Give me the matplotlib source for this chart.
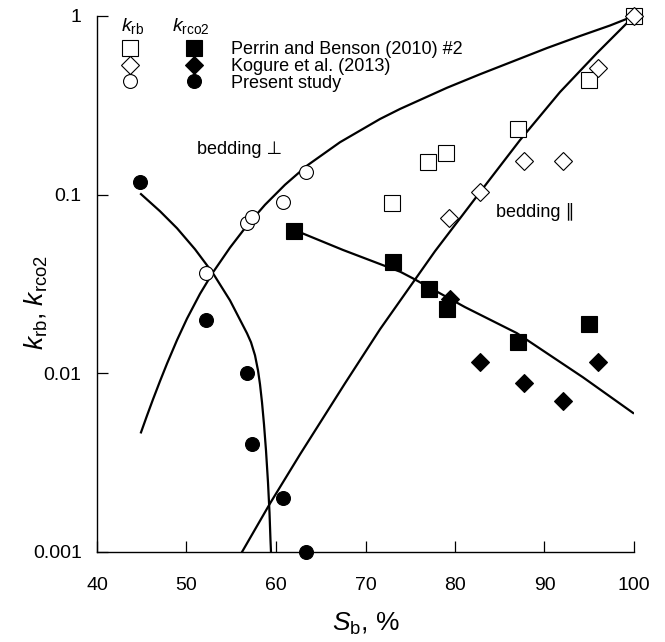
import matplotlib
matplotlib.use("Agg")
import matplotlib.pyplot as plt
from matplotlib.legend_handler import HandlerTuple

plt.rcParams['font.family'] = ['Liberation Sans', 'DejaVu Sans']
plt.rcParams['mathtext.fontset'] = 'custom'
plt.rcParams['mathtext.rm'] = 'Liberation Sans'
plt.rcParams['mathtext.it'] = 'Liberation Sans:italic'

# ---- data ----
perrin_krb_x = [73, 77, 79, 87, 95, 100]
perrin_krb_y = [0.090, 0.152, 0.171, 0.232, 0.44, 1.0]
kogure_krb_x = [79.3, 82.8, 87.7, 92.1, 96.0, 100]
kogure_krb_y = [0.074, 0.104, 0.154, 0.154, 0.51, 1.0]
present_krb_x = [52.2, 56.8, 57.3, 60.8, 63.4]
present_krb_y = [0.0365, 0.0695, 0.075, 0.091, 0.134]

perrin_kco2_x = [62.0, 73.1, 77.1, 79.1, 87.0, 95.0]
perrin_kco2_y = [0.0626, 0.042, 0.0297, 0.023, 0.015, 0.019]
kogure_kco2_x = [79.4, 82.8, 87.7, 92.1, 96.0]
kogure_kco2_y = [0.026, 0.0116, 0.0088, 0.0070, 0.0116]
present_kco2_x = [44.8, 52.2, 56.8, 57.3, 60.8, 63.4]
present_kco2_y = [0.118, 0.020, 0.0100, 0.0040, 0.0020, 0.0010]

# fitted curves
perp_krb_x = [44.916, 45.587, 46.257, 47.039, 47.821, 48.939, 50.056, 51.508, 52.961, 54.860,
              56.760, 58.771, 61.006, 63.464, 67.151, 71.620, 73.855, 79.106, 82.793, 86.480,
              90.279, 93.966, 97.318, 100]
perp_krb_y = [0.004671, 0.005801, 0.007151, 0.009043, 0.011331, 0.015346, 0.020248, 0.027853,
              0.036752, 0.050535, 0.067222, 0.087764, 0.11362, 0.14540, 0.19656, 0.26515,
              0.30177, 0.39658, 0.47196, 0.55743, 0.66177, 0.77268, 0.88465, 1.0]
par_krb_x = [56.201, 59.330, 62.682, 67.709, 71.620, 77.765, 82.793, 87.263, 91.732, 95.866, 100]
par_krb_y = [0.0010, 0.001869, 0.003517, 0.008790, 0.017643, 0.048253, 0.10328, 0.20200,
             0.37526, 0.62052, 1.0]
perp_kco2_x = [44.916, 47.039, 48.939, 50.950, 52.961, 54.860, 56.760, 57.207, 57.654, 57.989,
               58.212, 58.436, 58.659, 58.883, 59.106, 59.274, 59.385, 59.441]
perp_kco2_y = [0.1007, 0.0808, 0.0649, 0.0495, 0.0363, 0.0256, 0.01675, 0.01492, 0.01261,
               0.01039, 0.00868, 0.00688, 0.00518, 0.00370, 0.00245, 0.001664, 0.001160, 0.0010]
par_kco2_x = [62.7, 67.5, 73.9, 75.3, 81.1, 86.9, 94.3, 99.9]
par_kco2_y = [0.0615, 0.049, 0.037, 0.034, 0.0235, 0.0168, 0.0095, 0.0060]

legend_labels = ["Perrin and Benson (2010) #2", "Kogure et al. (2013)", "Present study"]
x_ticks = [40, 50, 60, 70, 80, 90, 100]
y_ticks = [0.001, 0.01, 0.1, 1]
y_ticklabels = ["0.001", "0.01", "0.1", "1"]

fig = plt.figure(figsize=(6.65, 6.42), dpi=100)
ax = fig.add_axes([97/665, 90/642, 537/665, 536/642])

lw = 1.6
for cx, cy in [(perp_krb_x, perp_krb_y), (par_krb_x, par_krb_y),
               (perp_kco2_x, perp_kco2_y), (par_kco2_x, par_kco2_y)]:
    ax.plot(cx, cy, color='black', lw=lw, zorder=2, solid_joinstyle='round')

ms_sq = 11.5
ms_d = 9
ms_c = 10
mew = 0.8
open_kw = dict(ls='none', mfc='white', mec='black', mew=mew, clip_on=False, zorder=3)
fill_kw = dict(ls='none', mfc='black', mec='black', mew=mew, clip_on=False, zorder=3)

h1, = ax.plot(perrin_krb_x, perrin_krb_y, marker='s', ms=ms_sq, **open_kw)
h2, = ax.plot(kogure_krb_x, kogure_krb_y, marker='D', ms=ms_d, **open_kw)
h3, = ax.plot(present_krb_x, present_krb_y, marker='o', ms=ms_c, **open_kw)
g1, = ax.plot(perrin_kco2_x, perrin_kco2_y, marker='s', ms=ms_sq, **fill_kw)
g2, = ax.plot(kogure_kco2_x, kogure_kco2_y, marker='D', ms=ms_d, **fill_kw)
g3, = ax.plot(present_kco2_x, present_kco2_y, marker='o', ms=ms_c, **fill_kw)

ax.set_yscale('log')
ax.set_xlim(40, 100)
ax.set_ylim(0.001, 1)
ax.set_xticks(x_ticks)
ax.set_xticklabels([str(t) for t in x_ticks])
ax.set_yticks(y_ticks)
ax.set_yticklabels(y_ticklabels)
ax.yaxis.set_minor_locator(matplotlib.ticker.NullLocator())
ax.tick_params(direction='in', length=8, width=0.9, labelsize=14)
ax.tick_params(axis='x', pad=18)
ax.tick_params(axis='y', pad=11)
for s in ['top', 'right']:
    ax.spines[s].set_visible(False)
for s in ['left', 'bottom']:
    ax.spines[s].set_linewidth(1.0)

ax.set_xlabel(r'$S_{\mathrm{b}}$, %', fontsize=19, labelpad=12)
ax.set_ylabel(r'$k_{\mathrm{rb}}$, $k_{\mathrm{rco2}}$', fontsize=19)
ax.yaxis.set_label_coords(-0.088, 0.465)

ax.text(55.9, 0.178, 'bedding ⊥', fontsize=13, ha='center', va='center')
ax.text(89.0, 0.080, 'bedding ∥', fontsize=13, ha='center', va='center')

leg = ax.legend([(h1, g1), (h2, g2), (h3, g3)], legend_labels,
                handler_map={tuple: HandlerTuple(ndivide=None, pad=0.0)},
                handlelength=7.0, handletextpad=0.3, labelspacing=-0.02,
                fontsize=13, frameon=False, loc='upper left',
                bbox_to_anchor=(0.0, 0.956), borderaxespad=0.0, borderpad=0.1)

fig.text(133/665, 1 - 26/642, r'$k_{\mathrm{rb}}$', fontsize=14, ha='center', va='center')
fig.text(191/665, 1 - 26/642, r'$k_{\mathrm{rco2}}$', fontsize=14, ha='center', va='center')

fig.savefig('out.png', dpi=100)
